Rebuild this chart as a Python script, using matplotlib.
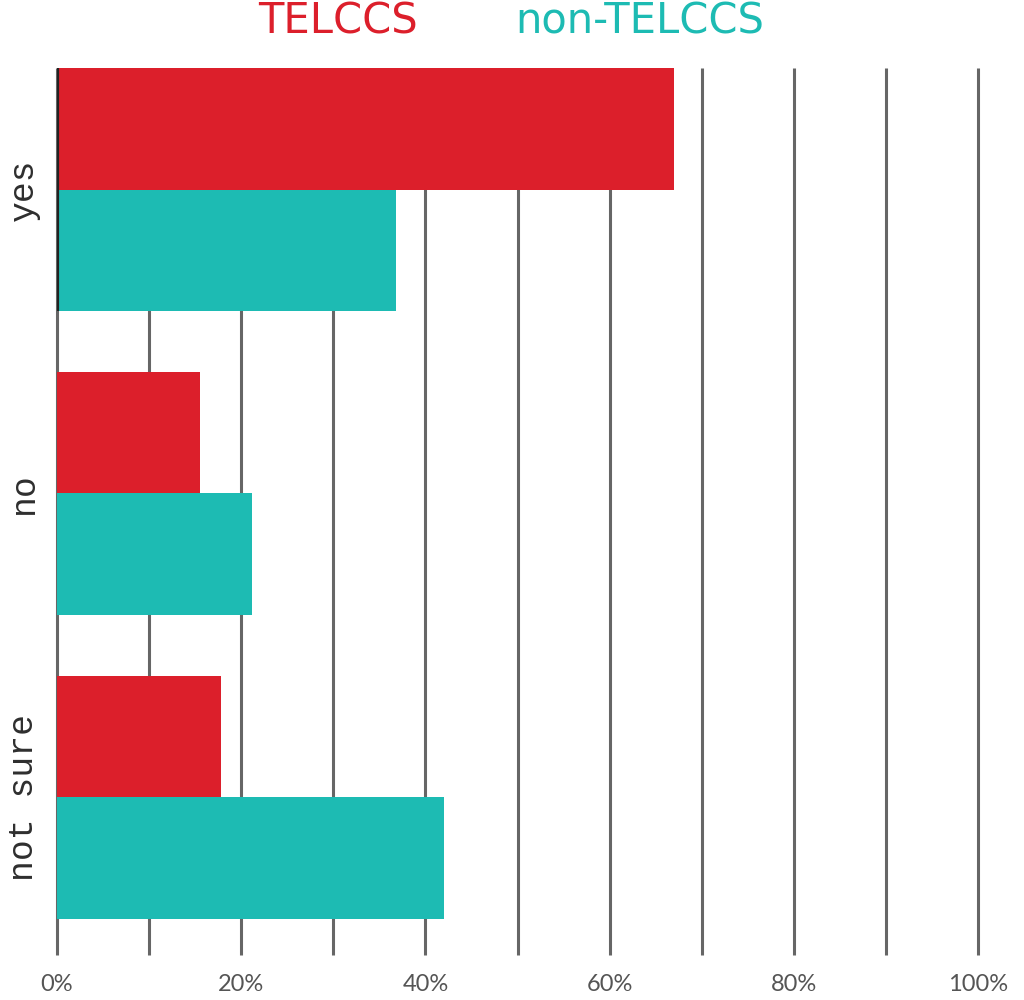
import numpy as np
import matplotlib
matplotlib.use("Agg")
import matplotlib.pyplot as plt

categories = ["yes", "no", "not sure"]
telccs = [67.0, 15.5, 17.8]
non_telccs = [36.8, 21.2, 42.0]
ticks = [0, 20, 40, 60, 80, 100]

red = "#dc1f2b"
teal = "#1dbbb3"

fig = plt.figure(figsize=(10.24, 10), dpi=100)
ax = fig.add_axes([57 / 1024, 0.045, 921 / 1024, 0.887])

y = np.arange(len(categories))
h = 0.4
ax.barh(y - h / 2, telccs, height=h, color=red, zorder=2)
ax.barh(y + h / 2, non_telccs, height=h, color=teal, zorder=2)

for g in range(0, 101, 10):
    ax.axvline(g, color="#666666", lw=2.2, zorder=1, clip_on=False,
               solid_capstyle="butt")
# dark edge next to the "yes" group
ax.axvline(0, ymin=1 - 0.8 / 2.92, ymax=1, color="#222222", lw=3, zorder=3,
           solid_capstyle="butt")

ax.set_xlim(0, 100)
ax.set_ylim(2.52, -0.4)
for s in ax.spines.values():
    s.set_visible(False)
ax.set_yticks([])
ax.set_xticks(ticks)
ax.set_xticklabels([f"{t}%" for t in ticks], fontsize=17, color="#555555",
                   family="Lato")
ax.tick_params(axis="x", length=0, pad=14)

for i, c in enumerate(categories):
    ax.text(-3.6, i, c, rotation=90, ha="center", va="center", fontsize=25,
            family="Liberation Mono", color="#2e2e2e", transform=ax.transData,
            clip_on=False)

fig.text(0.33, 0.978, "TELCCS", color=red, fontsize=30, ha="center",
         va="center", family="DejaVu Sans")
fig.text(0.625, 0.978, "non-TELCCS", color=teal, fontsize=30, ha="center",
         va="center", family="DejaVu Sans")

fig.savefig("out.png", dpi=100)
